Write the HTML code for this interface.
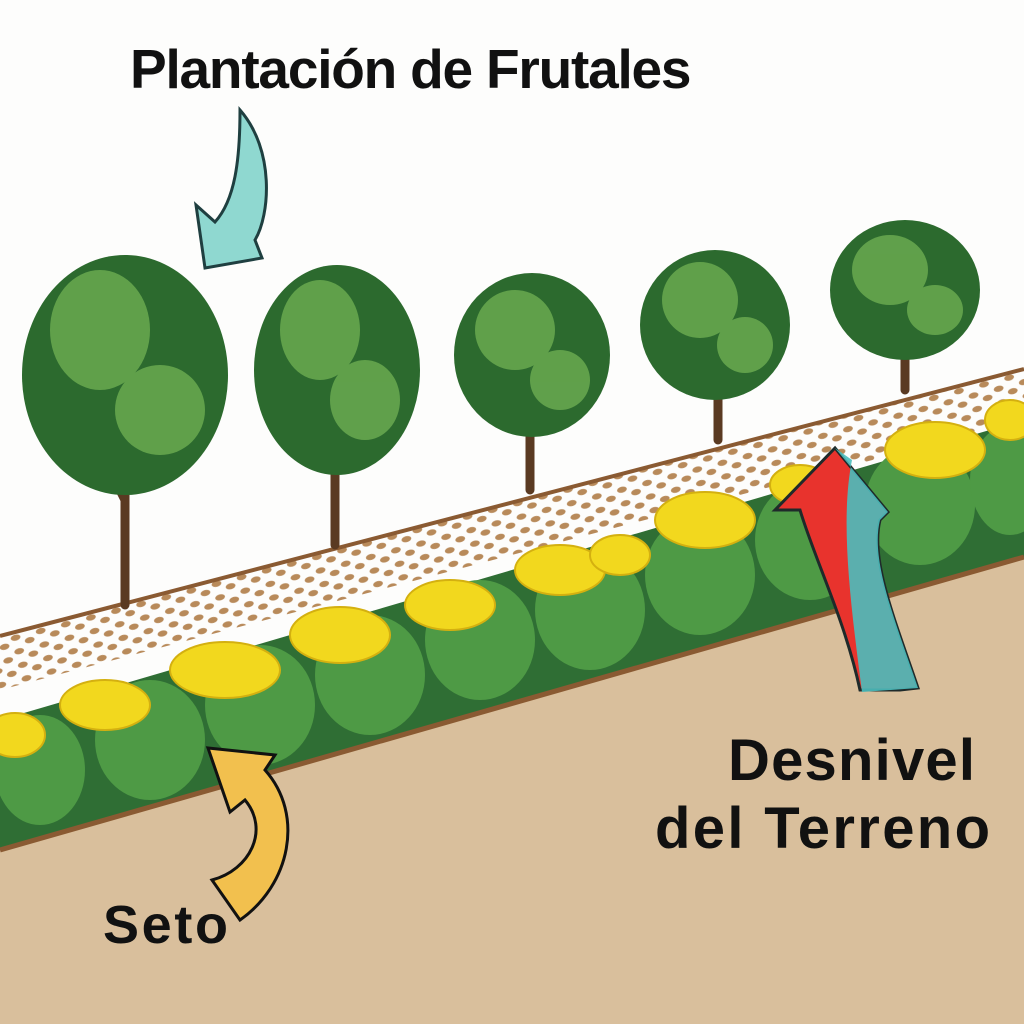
<!DOCTYPE html>
<html><head><meta charset="utf-8"><style>
html,body{margin:0;padding:0;background:#fdfdfc;}
svg{display:block}
text{font-family:"Liberation Sans","DejaVu Sans",sans-serif;font-weight:bold;fill:#111}
</style></head><body>
<svg width="1024" height="1024" viewBox="0 0 1024 1024" xmlns="http://www.w3.org/2000/svg">
<defs>
<pattern id="peb" width="26" height="14" patternUnits="userSpaceOnUse" patternTransform="rotate(-15)">
<ellipse cx="6" cy="4" rx="5" ry="3" fill="#b88a5a"/>
<ellipse cx="19" cy="10" rx="5" ry="3" fill="#b88a5a"/>
</pattern>
</defs>
<rect width="1024" height="1024" fill="#fdfdfc"/>
<polygon points="0,636 1024,369 1024,420 0,690" fill="url(#peb)"/>
<line x1="0" y1="636" x2="1024" y2="369" stroke="#8a5a32" stroke-width="4"/>
<polygon points="0,720 1024,420 1024,560 0,855" fill="#2f6e34"/>
<g fill="#4e9a45">
<ellipse cx="40" cy="770" rx="45" ry="55"/><ellipse cx="150" cy="740" rx="55" ry="60"/>
<ellipse cx="260" cy="705" rx="55" ry="60"/><ellipse cx="370" cy="675" rx="55" ry="60"/>
<ellipse cx="480" cy="640" rx="55" ry="60"/><ellipse cx="590" cy="610" rx="55" ry="60"/>
<ellipse cx="700" cy="575" rx="55" ry="60"/><ellipse cx="810" cy="540" rx="55" ry="60"/>
<ellipse cx="920" cy="505" rx="55" ry="60"/><ellipse cx="1010" cy="480" rx="40" ry="55"/>
</g>
<g fill="#f2d81e" stroke="#d4b010" stroke-width="2">
<ellipse cx="15" cy="735" rx="30" ry="22"/><ellipse cx="105" cy="705" rx="45" ry="25"/>
<ellipse cx="225" cy="670" rx="55" ry="28"/><ellipse cx="340" cy="635" rx="50" ry="28"/>
<ellipse cx="450" cy="605" rx="45" ry="25"/><ellipse cx="560" cy="570" rx="45" ry="25"/>
<ellipse cx="620" cy="555" rx="30" ry="20"/><ellipse cx="705" cy="520" rx="50" ry="28"/>
<ellipse cx="800" cy="485" rx="30" ry="20"/><ellipse cx="935" cy="450" rx="50" ry="28"/>
<ellipse cx="1010" cy="420" rx="25" ry="20"/>
</g>
<polygon points="0,850 1024,557 1024,1024 0,1024" fill="#d9bf9c"/>
<line x1="0" y1="850" x2="1024" y2="557" stroke="#8a5a32" stroke-width="5"/>
<g stroke="#5a3a22" stroke-width="9" fill="none" stroke-linecap="round">
<path d="M125,605 L125,460 M125,500 L95,440 M125,490 L160,440"/>
<path d="M335,545 L335,440 M335,470 L310,420 M335,460 L365,415"/>
<path d="M530,490 L530,410 M530,430 L505,390 M530,425 L555,385"/>
<path d="M718,440 L718,370 M718,390 L690,350 M718,385 L745,345"/>
<path d="M905,390 L905,330 M905,345 L880,310 M905,345 L930,305"/>
</g>
<g fill="#2c6a2e">
<ellipse cx="125" cy="375" rx="103" ry="120"/>
<ellipse cx="337" cy="370" rx="83" ry="105"/>
<ellipse cx="532" cy="355" rx="78" ry="82"/>
<ellipse cx="715" cy="325" rx="75" ry="75"/>
<ellipse cx="905" cy="290" rx="75" ry="70"/>
</g>
<g fill="#6eae52" opacity="0.8">
<ellipse cx="100" cy="330" rx="50" ry="60"/><ellipse cx="160" cy="410" rx="45" ry="45"/>
<ellipse cx="320" cy="330" rx="40" ry="50"/><ellipse cx="365" cy="400" rx="35" ry="40"/>
<ellipse cx="515" cy="330" rx="40" ry="40"/><ellipse cx="560" cy="380" rx="30" ry="30"/>
<ellipse cx="700" cy="300" rx="38" ry="38"/><ellipse cx="745" cy="345" rx="28" ry="28"/>
<ellipse cx="890" cy="270" rx="38" ry="35"/><ellipse cx="935" cy="310" rx="28" ry="25"/>
</g>
<path d="M240,110 C275,150 270,215 255,240 L262,258 L205,268 L196,205 L215,222 C235,200 240,160 240,110 Z" fill="#8fd8d0" stroke="#1f3f40" stroke-width="3"/>
<path d="M900,690 L918,688 C895,620 870,560 880,520 L888,512 L835,448 L775,510 L800,510 C815,560 845,620 860,690 Z" fill="#e8332d" stroke="#1f2a2a" stroke-width="3"/>
<path d="M862,692 L918,688 C895,620 870,560 880,520 L888,512 L835,448 L852,460 C840,520 850,600 862,692 Z" fill="#4bbdbd" opacity="0.9"/>
<path d="M212,880 C250,870 270,830 245,800 L230,812 L208,748 L275,755 L265,770 C305,815 290,885 240,920 Z" fill="#f2c04e" stroke="#111" stroke-width="3"/>
<text x="130" y="88" font-size="55" letter-spacing="-1.5" textLength="560">Plantación de Frutales</text>
<text x="728" y="780" font-size="58" textLength="247">Desnivel</text>
<text x="655" y="848" font-size="58" textLength="335">del Terreno</text>
<text x="103" y="943" font-size="54" textLength="125">Seto</text>
</svg>
</body></html>
